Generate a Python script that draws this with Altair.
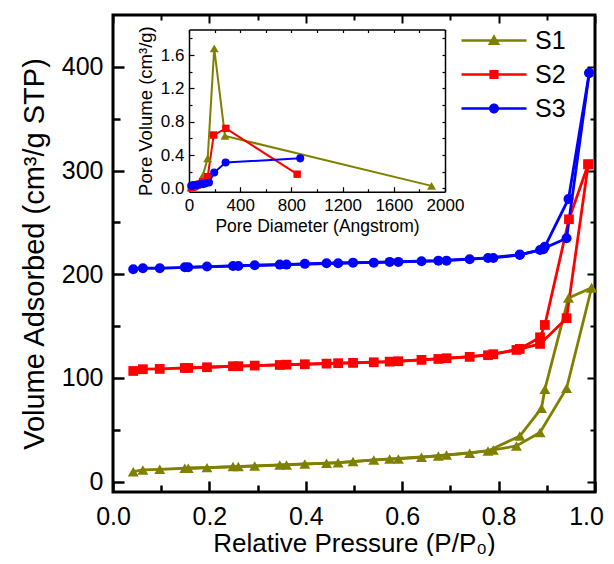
import altair as alt
import pandas as pd

FONT = "Liberation Sans, Arial, sans-serif"

series_names = ["S1", "S2", "S3"]
series_colors = ["#808000", "#FF0000", "#0000FF"]
main_shapes = ["triangle-up", "square", "circle"]

# ---- main isotherm data (relative pressure, volume adsorbed) ----
s1_ads_p = [0.042, 0.062, 0.097, 0.149, 0.195, 0.249, 0.294, 0.346, 0.398, 0.443, 0.498,
            0.541, 0.592, 0.640, 0.692, 0.740, 0.789, 0.837, 0.886, 0.941, 0.993]
s1_ads_v = [9.6, 11.3, 11.9, 12.9, 13.5, 14.5, 15.1, 16.1, 17.1, 17.7, 19.3,
            20.9, 21.9, 23.5, 25.7, 27.4, 30.6, 34.4, 47.3, 90.0, 187.0]
s1_des_p = [0.993, 0.945, 0.896, 0.889, 0.844, 0.778, 0.675, 0.574, 0.467, 0.360, 0.260, 0.156]
s1_des_v = [187.0, 177.0, 89.1, 70.8, 44.0, 29.6, 24.8, 21.9, 18.3, 16.1, 14.5, 12.9]

s2_ads_p = [0.042, 0.062, 0.097, 0.149, 0.195, 0.249, 0.294, 0.346, 0.398, 0.443, 0.498,
            0.541, 0.592, 0.640, 0.692, 0.740, 0.789, 0.837, 0.886, 0.941, 0.986]
s2_ads_v = [106.7, 108.4, 108.7, 109.6, 110.3, 111.3, 111.9, 112.5, 113.2, 113.8, 114.5,
            115.1, 116.1, 117.4, 119.0, 120.3, 122.9, 127.0, 132.8, 157.6, 306.0]
s2_des_p = [0.986, 0.946, 0.896, 0.886, 0.844, 0.778, 0.675, 0.574, 0.467, 0.360, 0.260, 0.156]
s2_des_v = [306.0, 253.0, 151.1, 139.2, 128.0, 121.9, 118.3, 115.7, 114.2, 112.8, 111.3, 109.6]

s3_ads_p = [0.042, 0.062, 0.097, 0.149, 0.195, 0.249, 0.294, 0.346, 0.398, 0.443, 0.498,
            0.541, 0.592, 0.640, 0.692, 0.740, 0.789, 0.844, 0.886, 0.941, 0.988]
s3_ads_v = [204.8, 205.8, 205.8, 206.7, 207.4, 208.0, 208.7, 209.3, 210.0, 210.6, 211.2,
            211.2, 211.9, 212.5, 213.1, 214.5, 215.7, 218.6, 223.4, 234.7, 394.0]
s3_des_p = [0.988, 0.945, 0.896, 0.893, 0.844, 0.778, 0.675, 0.574, 0.467, 0.360, 0.260, 0.156]
s3_des_v = [394.0, 272.6, 226.6, 224.1, 219.0, 215.7, 213.1, 211.9, 210.6, 209.3, 208.0, 206.7]

# ---- inset data (pore diameter, pore volume) ----
s1_pore_d = [18, 25, 33, 45, 60, 80, 107, 146, 197, 281, 1895]
s1_pore_v = [0.01, 0.02, 0.02, 0.03, 0.04, 0.06, 0.15, 0.36, 1.68, 0.63, 0.03]
s2_pore_d = [18, 25, 33, 45, 60, 80, 107, 146, 193, 288, 845]
s2_pore_v = [0.01, 0.02, 0.02, 0.03, 0.04, 0.05, 0.08, 0.14, 0.64, 0.72, 0.17]
s3_pore_d = [18, 25, 33, 45, 60, 80, 107, 130, 156, 197, 286, 869]
s3_pore_v = [0.03, 0.03, 0.04, 0.04, 0.04, 0.05, 0.05, 0.06, 0.07, 0.19, 0.31, 0.36]

# axis tick values
x_labels_main = [0.0, 0.2, 0.4, 0.6, 0.8]
x_label_end = [1.0]
x_major = [0.0, 0.2, 0.4, 0.6, 0.8, 1.0]
x_minor = [0.1, 0.3, 0.5, 0.7, 0.9]
y_major = [0, 100, 200, 300, 400]
y_minor = [50, 150, 250, 350]
ix_major = [0, 400, 800, 1200, 1600, 2000]
ix_minor = [200, 600, 1000, 1400, 1800]
ix_all = [0, 200, 400, 600, 800, 1000, 1200, 1400, 1600, 1800, 2000]
iy_major = [0.0, 0.4, 0.8, 1.2, 1.6]
iy_minor = [0.2, 0.6, 1.0, 1.4, 1.8]
iy_all = [0.0, 0.2, 0.4, 0.6, 0.8, 1.0, 1.2, 1.4, 1.6, 1.8]

# ---- build tables ----
rows = []
main_sets = {
    "S1": (s1_ads_p, s1_ads_v, s1_des_p, s1_des_v),
    "S2": (s2_ads_p, s2_ads_v, s2_des_p, s2_des_v),
    "S3": (s3_ads_p, s3_ads_v, s3_des_p, s3_des_v),
}
for name in series_names:
    ap, av, dp, dv = main_sets[name]
    for i, (p, v) in enumerate(zip(ap, av)):
        rows.append({"series": name, "branch": name + "-ads", "idx": i, "P": p, "V": v})
    for i, (p, v) in enumerate(zip(dp, dv)):
        rows.append({"series": name, "branch": name + "-des", "idx": i, "P": p, "V": v})
df_main = pd.DataFrame(rows)

irows = []
inset_sets = {"S1": (s1_pore_d, s1_pore_v), "S2": (s2_pore_d, s2_pore_v), "S3": (s3_pore_d, s3_pore_v)}
for name in series_names:
    d, v = inset_sets[name]
    for i, (a, b) in enumerate(zip(d, v)):
        irows.append({"series": name, "idx": i, "D": a, "PV": b})
df_inset = pd.DataFrame(irows)

df_leg = pd.DataFrame({"series": series_names})

# ---- geometry ----
W, H = 482, 477
IX0, IX1 = 76, 332      # inset x range in plot pixels
IY0, IY1 = 176.7, 14.5  # inset y range (bottom, top)

color_scale = alt.Scale(domain=series_names, range=series_colors)


def mx_scale():
    return alt.Scale(domain=[0, 1], nice=False, zero=False)


def my_scale():
    return alt.Scale(domain=[-10, 450], nice=False, zero=False)


def ix_scale():
    return alt.Scale(domain=[0, 2000], range=[IX0, IX1], nice=False, zero=False)


def iy_scale():
    return alt.Scale(domain=[-0.04, 1.906], range=[IY0, IY1], nice=False, zero=False)


def tick_axis(orient, offset, values, size, width, domain=False, dwidth=1.5):
    return alt.Axis(orient=orient, offset=offset, values=values, labels=False,
                    ticks=True, tickSize=size, tickWidth=width, tickColor="black",
                    domain=domain, domainWidth=dwidth, domainColor="black",
                    title=None, grid=False)


def ghost(df, xf, yf, xs, ys, xa, ya):
    return alt.Chart(df).mark_point(opacity=0).encode(
        x=alt.X(xf, scale=xs, axis=xa),
        y=alt.Y(yf, scale=ys, axis=ya),
    )


# ---- main chart layers ----
main_lines = alt.Chart(df_main).mark_line(strokeWidth=2.8).encode(
    x=alt.X("P:Q", scale=mx_scale(),
            axis=alt.Axis(orient="bottom", values=x_labels_main, format=".1f", labelFontSize=25,
                          labelPadding=12, labelFlush=False, labelOverlap=False,
                          ticks=False, tickSize=0, domain=False,
                          title="Relative Pressure (P/P₀)", titleFontSize=26, titlePadding=1,
                          titleX=W / 2)),
    y=alt.Y("V:Q", scale=my_scale(),
            axis=alt.Axis(orient="left", values=y_major, labelFontSize=25, labelPadding=10,
                          labelFlush=False, labelOverlap=False,
                          ticks=False, tickSize=0, domain=False,
                          title="Volume Adsorbed (cm³/g STP)", titleFontSize=29, titlePadding=12)),
    color=alt.Color("series:N", scale=color_scale, legend=None),
    detail="branch:N",
    order="idx:Q",
)

# last x label nudged left so it stays inside the page
x_end_label = ghost(df_main, "P:Q", "V:Q", mx_scale(), my_scale(),
                    alt.Axis(orient="bottom", values=x_label_end, format=".1f", labelFontSize=25,
                             labelPadding=12, labelFlush=False, labelOffset=-9,
                             ticks=False, tickSize=0, domain=False, title=None),
                    None)

main_point_layers = []
for name, shp, sz in zip(series_names, main_shapes, [120, 95, 100]):
    main_point_layers.append(
        alt.Chart(df_main).transform_filter(alt.datum.series == name)
        .mark_point(filled=True, opacity=1, size=sz, shape=shp).encode(
            x=alt.X("P:Q", scale=mx_scale(), axis=None),
            y=alt.Y("V:Q", scale=my_scale(), axis=None),
            color=alt.Color("series:N", scale=color_scale, legend=None),
        )
    )

m_ticks_major_in = ghost(df_main, "P:Q", "V:Q", mx_scale(), my_scale(),
                         tick_axis("top", -H, x_major, 11, 2.5),
                         tick_axis("right", -W, y_major, 11, 2.5))
m_ticks_minor_in = ghost(df_main, "P:Q", "V:Q", mx_scale(), my_scale(),
                         tick_axis("top", -H, x_minor, 7, 2.5),
                         tick_axis("right", -W, y_minor, 7, 2.5))
m_ticks_major_opp = ghost(df_main, "P:Q", "V:Q", mx_scale(), my_scale(),
                          tick_axis("bottom", -H, x_major, 8, 2),
                          tick_axis("left", -W, y_major, 8, 2))
m_ticks_minor_opp = ghost(df_main, "P:Q", "V:Q", mx_scale(), my_scale(),
                          tick_axis("bottom", -H, x_minor, 5, 2),
                          tick_axis("left", -W, y_minor, 5, 2))

# ---- inset layers ----
inset_lines = alt.Chart(df_inset).mark_line(strokeWidth=2).encode(
    x=alt.X("D:Q", scale=ix_scale(),
            axis=alt.Axis(orient="bottom", offset=IY0 - H, values=ix_major, format="d",
                          labelFontSize=17, labelPadding=6, labelFlush=False, labelOverlap=False,
                          ticks=False, tickSize=0, domain=True, domainWidth=1.5,
                          domainColor="black", title="Pore Diameter (Angstrom)",
                          titleFontSize=17.5, titlePadding=4)),
    y=alt.Y("PV:Q", scale=iy_scale(),
            axis=alt.Axis(orient="left", offset=-IX0, values=iy_major, format=".1f",
                          labelFontSize=17, labelPadding=5, labelFlush=False, labelOverlap=False,
                          ticks=False, tickSize=0,
                          domain=True, domainWidth=1.5, domainColor="black",
                          title="Pore Volume (cm³/g)", titleFontSize=18.5, titlePadding=5)),
    color=alt.Color("series:N", scale=color_scale, legend=None),
    detail="series:N",
    order="idx:Q",
)

inset_point_layers = []
for name, shp, sz in zip(series_names, main_shapes, [80, 55, 65]):
    inset_point_layers.append(
        alt.Chart(df_inset).transform_filter(alt.datum.series == name)
        .mark_point(filled=True, opacity=1, size=sz, shape=shp).encode(
            x=alt.X("D:Q", scale=ix_scale(), axis=None),
            y=alt.Y("PV:Q", scale=iy_scale(), axis=None),
            color=alt.Color("series:N", scale=color_scale, legend=None),
        )
    )

i_ticks_major = ghost(df_inset, "D:Q", "PV:Q", ix_scale(), iy_scale(),
                      tick_axis("top", -IY0, ix_major, 5, 1.2),
                      tick_axis("right", IX0 - W, iy_major, 5, 1.2))
i_ticks_minor = ghost(df_inset, "D:Q", "PV:Q", ix_scale(), iy_scale(),
                      tick_axis("top", -IY0, ix_minor, 3, 1.2),
                      tick_axis("right", IX0 - W, iy_minor, 3, 1.2))
i_frame = ghost(df_inset, "D:Q", "PV:Q", ix_scale(), iy_scale(),
                tick_axis("bottom", IY1 - H, ix_all, 3, 1.2, domain=True),
                tick_axis("left", -IX1, iy_all, 3, 1.2, domain=True))

# ---- legend: symbol = line (thin filled bar) + marker, all filled ----
legend_paths = [
    "M-3.25,-0.13H3.25V0.13H-3.25ZM0,-0.62L0.62,0.45L-0.62,0.45Z",
    "M-3.25,-0.13H3.25V0.13H-3.25ZM-0.46,-0.46H0.46V0.46H-0.46Z",
    "M-3.25,-0.13H3.25V0.13H-3.25ZM0.5,0A0.5,0.5,0,1,1,-0.5,0A0.5,0.5,0,1,1,0.5,0Z",
]
leg = alt.Legend(orient="none", legendX=346, legendY=13, title=None, labelFontSize=25,
                 labelFont=FONT, labelColor="black", symbolSize=400, symbolStrokeWidth=0,
                 symbolOffset=22.5, labelOffset=28.5, rowPadding=8)
legend_layer = alt.Chart(df_leg).transform_filter("false").mark_point(filled=True, opacity=1).encode(
    shape=alt.Shape("series:N", scale=alt.Scale(domain=series_names, range=legend_paths), legend=leg),
    fill=alt.Fill("series:N", scale=alt.Scale(domain=series_names, range=series_colors), legend=leg),
)

chart = alt.layer(
    m_ticks_major_in, m_ticks_minor_in, m_ticks_major_opp, m_ticks_minor_opp,
    i_ticks_major, i_ticks_minor, i_frame, x_end_label,
    main_lines, *main_point_layers, inset_lines, *inset_point_layers, legend_layer,
).resolve_scale(
    x="independent", y="independent", fill="independent", shape="independent"
).properties(
    width=W, height=H, autosize=alt.AutoSizeParams(type="none"),
    padding={"left": 105, "top": 7, "right": 11, "bottom": 64},
).configure_view(
    stroke="black", strokeWidth=3
).configure_axis(
    grid=False, labelFont=FONT, titleFont=FONT, labelColor="black", titleColor="black",
    titleFontWeight="normal"
).configure_legend(
    labelFont=FONT
)

chart.save("out.html", embed_options={"renderer": "svg", "actions": False})
